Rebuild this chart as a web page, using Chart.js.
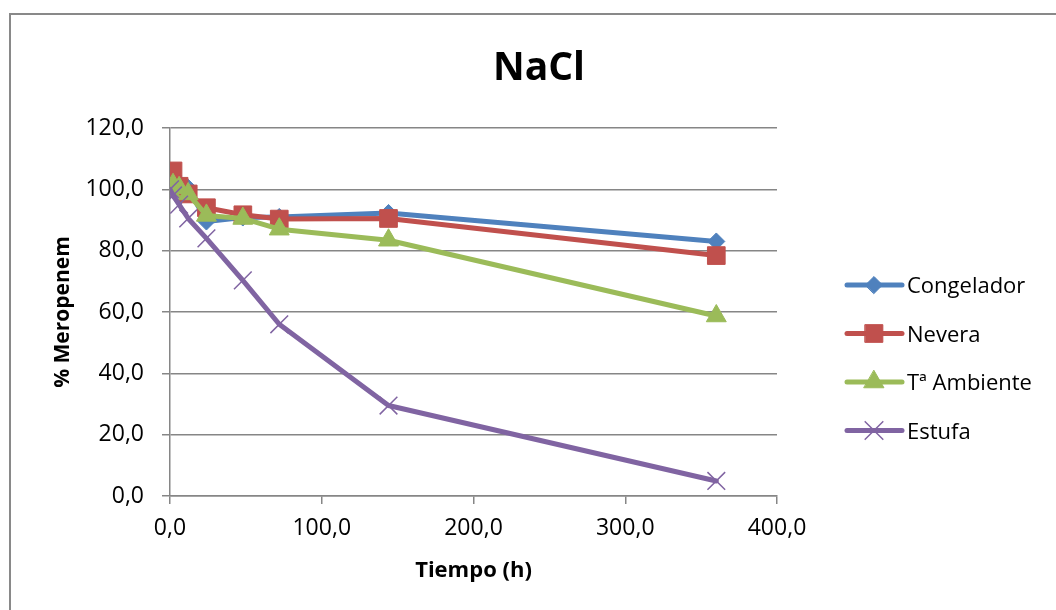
<!DOCTYPE html>
<html>
<head>
<meta charset="utf-8">
<title>NaCl</title>
<script src="https://cdn.jsdelivr.net/npm/chart.js@4.4.1/dist/chart.umd.min.js"></script>
<style>
  html, body { margin: 0; padding: 0; background: #ffffff; }
  canvas { display: block; }
</style>
</head>
<body>
<canvas id="grafico" width="1056" height="610"></canvas>
<script>
// Tiempo de muestreo (h)
const horas = [0, 2, 6, 12, 24, 48, 72, 144, 360];

// % de meropenem remanente en cada condición de conservación
const congelador = [100.0, 104.5, 102.0, 100.5, 89.5, 90.8, 91.0, 92.3, 83.0];
const nevera     = [100.5, 106.0, 101.0, 98.5, 94.0, 91.7, 90.3, 90.5, 78.4];
const ambiente   = [99.5, 101.5, 100.5, 98.5, 91.5, 90.5, 87.0, 83.4, 58.7];
const estufa     = [100.0, 98.0, 95.0, 90.5, 84.0, 70.3, 56.0, 29.5, 4.9];

const nombres = ['Congelador', 'Nevera', 'Tª Ambiente', 'Estufa'];
const titulo = 'NaCl';
const tituloX = 'Tiempo (h)';
const tituloY = '% Meropenem';

const FUENTE = '"Open Sans", "DejaVu Sans", sans-serif';
const GRIS = '#868686';

const estilos = [
  { color: '#4F81BD', punto: 'rectRot',  radio: 8.5,  borde: 1 },
  { color: '#C0504D', punto: 'rect',     radio: 12.5, borde: 1 },
  { color: '#9BBB59', punto: 'triangle', radio: 11.5, borde: 1 },
  { color: '#8064A2', punto: 'crossRot', radio: 12.5, borde: 1.5 }
];

const series = [congelador, nevera, ambiente, estufa];

const coma = v => Number(v).toFixed(1).replace('.', ',');

const datasets = series.map((valores, i) => ({
  label: nombres[i],
  data: horas.map((h, k) => ({ x: h, y: valores[k] })),
  showLine: true,
  borderColor: estilos[i].color,
  backgroundColor: estilos[i].color,
  borderWidth: 5,
  borderJoinStyle: 'round',
  borderCapStyle: 'round',
  pointStyle: estilos[i].punto,
  pointRadius: estilos[i].radio,
  pointHoverRadius: estilos[i].radio,
  pointBorderWidth: estilos[i].borde,
  pointBorderColor: estilos[i].color,
  pointBackgroundColor: estilos[i].color,
  // la última serie queda encima
  order: series.length - 1 - i
}));

// Marco, título y leyenda dibujados sobre el lienzo
const decoracion = {
  id: 'decoracion',
  beforeDraw(chart) {
    const ctx = chart.ctx;
    ctx.save();
    ctx.fillStyle = '#ffffff';
    ctx.fillRect(0, 0, chart.width, chart.height);
    ctx.strokeStyle = '#898989';
    ctx.lineWidth = 2;
    ctx.strokeRect(10, 14, chart.width + 40, chart.height + 40);
    ctx.restore();
  },
  afterDraw(chart) {
    const ctx = chart.ctx;
    ctx.save();
    ctx.fillStyle = '#000000';
    ctx.font = 'bold 39px ' + FUENTE;
    ctx.textAlign = 'center';
    ctx.textBaseline = 'alphabetic';
    ctx.fillText(titulo, 539, 80);

    const x0 = 847, x1 = 902, xm = 874, xt = 907;
    const y0 = 285, paso = 48.5;
    chart.data.datasets.forEach((ds, i) => {
      const y = y0 + paso * i;
      const e = estilos[i];
      ctx.strokeStyle = e.color;
      ctx.lineWidth = 5;
      ctx.lineCap = 'round';
      ctx.beginPath();
      ctx.moveTo(x0, y);
      ctx.lineTo(x1, y);
      ctx.stroke();
      ctx.fillStyle = e.color;
      ctx.lineWidth = e.borde;
      Chart.helpers.drawPoint(ctx, {
        pointStyle: e.punto, rotation: 0, radius: e.radio, borderWidth: e.borde
      }, xm, y);
      ctx.fillStyle = '#000000';
      ctx.font = '22px ' + FUENTE;
      ctx.textAlign = 'left';
      ctx.fillText(ds.label, xt, y + 8);
    });
    ctx.restore();
  }
};

new Chart(document.getElementById('grafico'), {
  type: 'scatter',
  data: { datasets },
  options: {
    responsive: false,
    animation: false,
    layout: { padding: { left: 0, right: 279, top: 128, bottom: 0 } },
    plugins: {
      legend: { display: false },
      title: { display: false },
      tooltip: { enabled: false }
    },
    scales: {
      x: {
        type: 'linear',
        min: 0, max: 400,
        ticks: {
          stepSize: 100,
          color: '#000000',
          font: { family: FUENTE, size: 23 },
          padding: 11,
          maxRotation: 0,
          callback: v => coma(v)
        },
        grid: { drawOnChartArea: false, drawTicks: true, tickLength: 8, color: GRIS, lineWidth: 1.5 },
        border: { display: true, color: GRIS, width: 1.5 },
        title: {
          display: true, text: tituloX, color: '#000000',
          font: { family: FUENTE, size: 22, weight: 'bold' },
          padding: { top: 0, bottom: 26 }
        },
        afterFit: s => { s.height = 114; }
      },
      y: {
        type: 'linear',
        min: 0, max: 120,
        ticks: {
          stepSize: 20,
          color: '#000000',
          font: { family: FUENTE, size: 23 },
          padding: 18,
          callback: v => coma(v)
        },
        grid: { drawTicks: true, tickLength: 8, color: GRIS, lineWidth: 1.5 },
        border: { display: true, color: GRIS, width: 1.5 },
        title: {
          display: true, text: tituloY, color: '#000000',
          font: { family: FUENTE, size: 21, weight: 'bold' },
          padding: { top: 50, bottom: 0 }
        },
        afterFit: s => { s.width = 170; }
      }
    }
  },
  plugins: [decoracion]
});
</script>
</body>
</html>
